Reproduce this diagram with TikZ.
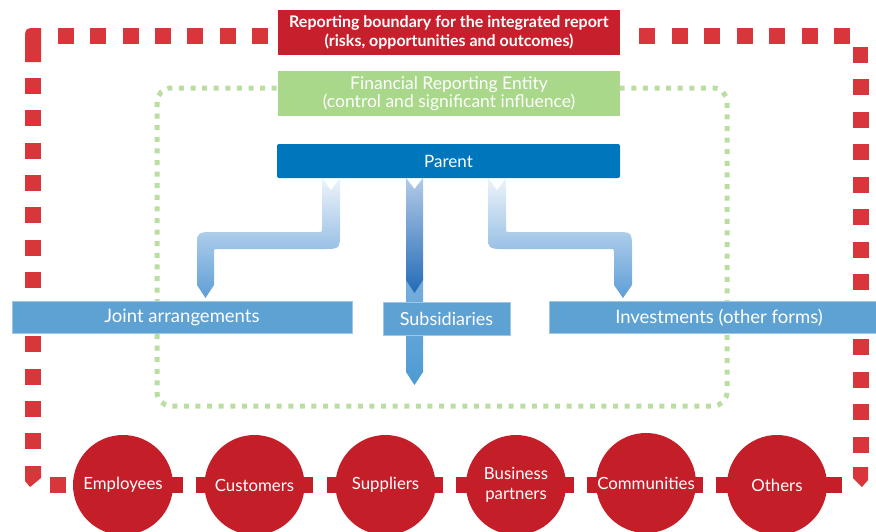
\documentclass[tikz,border=0pt]{standalone}
\usepackage{fontspec}
\setmainfont{Lato}
\definecolor{redtitle}{HTML}{C81F2C}
\definecolor{reddash}{HTML}{D8363A}
\definecolor{greenbox}{HTML}{A9D88B}
\definecolor{greendot}{HTML}{BADEA1}
\definecolor{parentblue}{HTML}{0076BD}
\definecolor{boxblue}{HTML}{5DA2D3}
\definecolor{boxedge}{HTML}{9CC7E6}
\definecolor{circlered}{HTML}{C41E29}
\definecolor{arrtop}{HTML}{EEF3FA}
\definecolor{arrbot}{HTML}{5E9ED6}
\definecolor{darktop}{HTML}{B3CAE8}
\definecolor{darkbot}{HTML}{236BB6}
\definecolor{shafttop}{HTML}{78AEDD}
\definecolor{shaftbot}{HTML}{4C9BD3}
\begin{document}
\begin{tikzpicture}[x=1pt,y=-1pt,
  reddashes/.style={draw=reddash, line width=16pt},
  titlebox/.style={fill=redtitle, text=white, font=\fontsize{16}{19.5}\selectfont\bfseries, align=center, inner sep=0pt, minimum width=342pt, minimum height=45pt},
  entitybox/.style={fill=greenbox, text=white, font=\fontsize{17.5}{18}\selectfont, align=center, inner sep=0pt, minimum width=342pt, minimum height=45pt},
  parentbox/.style={fill=parentblue, text=white, font=\fontsize{17}{19}\selectfont, rounded corners=2pt, inner sep=0pt, minimum width=343pt, minimum height=34pt},
  lowerbox/.style={fill=boxblue, draw=boxedge, line width=0.8pt, text=white, font=\fontsize{18.5}{20}\selectfont, inner sep=0pt, minimum height=32pt},
  stake/.style={circle, fill=circlered, text=white, font=\fontsize{16.8}{19.5}\selectfont, align=center, inner sep=0pt, minimum size=100pt},
  tab/.style={fill=circlered}]
\useasboundingbox (0,0) rectangle (876,531);

% inner green dotted boundary
\draw[draw=greendot, line width=5pt, dash pattern=on 5pt off 6.6pt, rounded corners=14pt] (157,88) rectangle (727,406);

% outer red dashed boundary
\draw[reddashes, dash pattern=on 16pt off 16.3pt] (33,78) -- (33,462);
\draw[reddashes, dash pattern=on 16pt off 16.5pt] (860.5,79) -- (860.5,460);
\draw[reddashes, dash pattern=on 16pt off 16.3pt] (58,36) -- (272,36);
\draw[reddashes, dash pattern=on 16pt off 16.5pt] (639,36) -- (852,36);
\fill[reddash] (25,62) -- (25,41) .. controls (25,28) .. (38,28) -- (41,28) -- (41,62) -- cycle;
\fill[reddash] (853,47) -- (868,47) -- (868,63) -- (853,63) -- cycle;
\fill[reddash] (25,466) -- (41,466) -- (41,478) -- (30,487) -- (25,481) -- cycle;
\fill[reddash] (853,467) -- (868,467) -- (868,480) -- (862,487) -- (853,478) -- cycle;
\fill[reddash] (50,477) rectangle (66,493);

% top boxes
\node[titlebox] (title) at (449,32.5) {Reporting boundary for the integrated report\\(risks, opportunities and outcomes)};
\node[entitybox] (entity) at (449,93.5) {Financial Reporting Entity\\(control and significant influence)};
\node[parentbox] (parent) at (448.5,161) {Parent};

% arrows
\shade[top color=shafttop, bottom color=shaftbot] (406,280) -- (423,280) -- (423,372) -- (414.5,385) -- (406,372) -- cycle;
\shade[top color=arrtop, bottom color=arrbot]
  (322,178) -- (331,190) -- (340,178) -- (340,232) .. controls (340,249) .. (323,249)
  -- (218,249) .. controls (214,249) .. (214,253) -- (214,285) -- (205.5,298) -- (197,285)
  -- (197,249) .. controls (197,232) .. (214,232) -- (318,232) .. controls (322,232) .. (322,228) -- cycle;
\shade[top color=arrtop, bottom color=arrbot]
  (488,178) -- (497,190) -- (506,178) -- (506,228) .. controls (506,232) .. (510,232)
  -- (615,232) .. controls (632,232) .. (632,249) -- (632,285) -- (623,298) -- (614,285)
  -- (614,253) .. controls (614,249) .. (610,249) -- (505,249) .. controls (488,249) .. (488,232) -- cycle;
\shade[top color=darktop, bottom color=darkbot] (406,178) -- (414.5,189) -- (423,178) -- (423,280) -- (414.5,293) -- (406,280) -- cycle;

% lower boxes
\node[lowerbox, minimum width=340pt] (joint) at (182,317.5) {Joint arrangements};
\node[lowerbox, minimum width=127pt, minimum height=33pt, font=\fontsize{18}{20}\selectfont] (subs) at (446.5,318.5) {Subsidiaries};
\node[lowerbox, minimum width=330pt] (invest) at (714,317.5) {\hspace*{10pt}Investments (other forms)};

% stakeholder circles with tabs
\fill[tab] (123,477) rectangle (183,493);
\fill[tab] (196,477) rectangle (313,493);
\fill[tab] (327,477) rectangle (443,493);
\fill[tab] (456,477) rectangle (574,493);
\fill[tab] (587,477) rectangle (703,493);
\fill[tab] (716,477) rectangle (842,493);
\node[stake] (c1) at (123,485) {Employees};
\node[stake] (c2) at (254.5,485) {Customers};
\node[stake] (c3) at (385.5,485) {Suppliers};
\node[stake] (c4) at (516,485) {Business\\partners};
\node[stake] (c5) at (646,483) {Communities};
\node[stake] (c6) at (777,485) {Others};
\end{tikzpicture}
\end{document}
